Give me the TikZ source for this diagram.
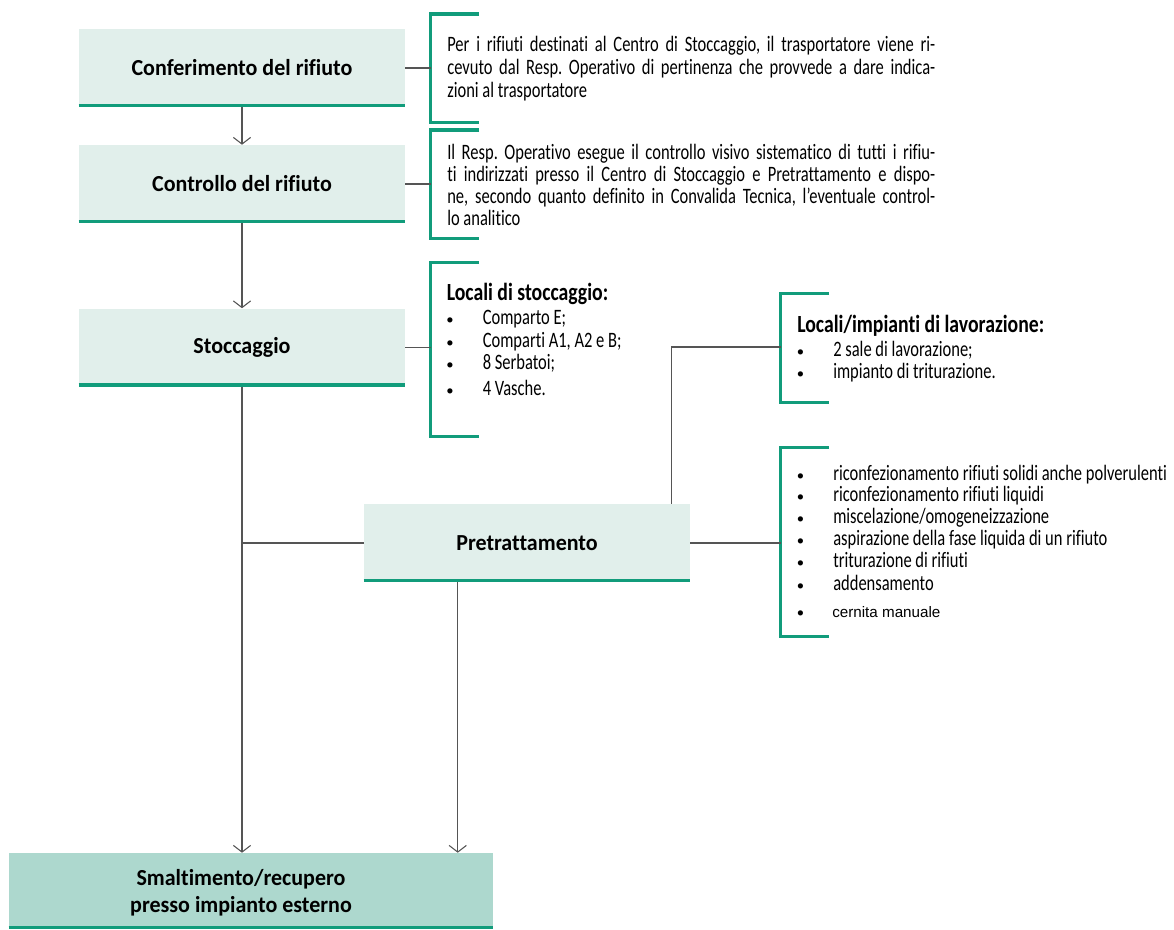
\documentclass[tikz,border=0pt]{standalone}
\usepackage{fontspec}
\setmainfont{Carlito}[Ligatures=NoCommon]
\newfontfamily\condf[FakeStretch=0.75,Ligatures=NoCommon]{Carlito}
\newfontfamily\headfam[FakeStretch=0.8,Ligatures=NoCommon]{Carlito}
\newfontfamily\titlefam[FakeStretch=0.96,Ligatures=NoCommon]{Carlito}
\newfontfamily\arialf{Liberation Sans}
\usetikzlibrary{arrows.meta}
\definecolor{boxfill}{HTML}{E1EFEB}
\definecolor{darkfill}{HTML}{ADD8CE}
\definecolor{greenline}{HTML}{119C7B}
\definecolor{linegray}{HTML}{555555}
\newcommand{\titlef}{\titlefam\fontsize{17.2pt}{20.25pt}\selectfont\bfseries}
\newcommand{\callf}{\condf\fontsize{16.5pt}{17pt}\selectfont\frenchspacing}
\newcommand{\headf}{\headfam\fontsize{18.5pt}{19pt}\selectfont\bfseries}
\newcommand{\bulf}{\fontsize{11pt}{12pt}\selectfont}
\newcommand{\jl}[1]{\makebox[366pt][s]{#1}}
\tikzset{
  stepbox/.style={fill=boxfill, minimum width=244.5pt, minimum height=58.5pt, inner sep=0pt, font=\titlef, align=center},
  greenbar/.style={draw=greenline, line width=2.5pt},
  bracketline/.style={draw=greenline, line width=2.5pt},
  conn/.style={draw=linegray, line width=0.8pt},
  arr/.style={draw=linegray, line width=0.8pt, -{Straight Barb[length=5pt,width=13pt]}},
  txt/.style={inner sep=0pt, anchor=base west, font=\callf},
  head/.style={inner sep=0pt, anchor=base west, font=\headf},
  bul/.style={inner sep=0pt, anchor=base, font=\bulf},
}
\begin{document}
\begin{tikzpicture}[x=0.75pt,y=-0.75pt]
\useasboundingbox (0,0) rectangle (1174,929);
% main boxes
\node[stepbox] (b1) at (242,68) {Conferimento del rifiuto};
\node[stepbox] (b2) at (242,184) {Controllo del rifiuto};
\node[stepbox] (b3) at (242,347.5) {Stoccaggio};
\node[stepbox] (b4) at (527,543) {Pretrattamento};
\node[stepbox, fill=darkfill, minimum width=363pt, minimum height=57pt,
  label={[xshift=-7.5pt, yshift=-1pt, align=center, font=\titlef]center:Smaltimento/recupero\\presso impianto esterno}] (b5) at (251,891) {};
\foreach \b in {b1,b2,b3,b4,b5}
  \draw[greenbar] ([yshift=1.25pt]\b.south west) -- ([yshift=1.25pt]\b.south east);

% brackets
\coordinate (k1) at (430.5,68);
\coordinate (k2) at (430.5,183.5);
\coordinate (k3) at (430.5,348.5);
\coordinate (k4) at (780.5,347);
\coordinate (k5) at (780.5,541);
\draw[bracketline] (479,14) -- (430.5,14) -- (430.5,122.5) -- (479,122.5);
\draw[bracketline] (479,130) -- (430.5,130) -- (430.5,238.5) -- (479,238.5);
\draw[bracketline] (479,262.5) -- (430.5,262.5) -- (430.5,436.5) -- (479,436.5);
\draw[bracketline] (829,293.5) -- (780.5,293.5) -- (780.5,402.5) -- (829,402.5);
\draw[bracketline] (829,447.5) -- (780.5,447.5) -- (780.5,636.5) -- (829,636.5);

% connectors
\draw[arr] (b1.south) -- (b2.north);
\draw[arr] (b2.south) -- (b3.north);
\draw[arr] (b3.south) -- (b3.south |- b5.north);
\draw[arr] ([xshift=70.5pt]b4.south west) -- ([xshift=70.5pt]b4.south west |- b5.north);
\draw[conn] (b3.south |- b4.west) -- (b4.west);
\draw[conn] (b1.east) -- (b1.east -| k1);
\draw[conn] (b2.east) -- (b2.east -| k2);
\draw[conn] (b3.east) -- (b3.east -| k3);
\draw[conn] ([xshift=231pt]b4.north west) |- (k4);
\draw[conn] (b4.east) -- (b4.east -| k5);

% callout 1
\node[txt] (t1a) at (447,51) {\jl{Per i rifiuti destinati al Centro di Stoccaggio, il trasportatore viene ri-}};
\node[txt] (t1b) at (447,74) {\jl{cevuto dal Resp. Operativo di pertinenza che provvede a dare indica-}};
\node[txt] (t1c) at (447,97) {zioni al trasportatore};
% callout 2
\node[txt] (t2a) at (447,159) {\jl{Il Resp. Operativo esegue il controllo visivo sistematico di tutti i rifiu-}};
\node[txt] (t2b) at (447,181.5) {\jl{ti indirizzati presso il Centro di Stoccaggio e Pretrattamento e dispo-}};
\node[txt] (t2c) at (447,203.5) {\jl{ne, secondo quanto definito in Convalida Tecnica, l’eventuale control-}};
\node[txt] (t2d) at (447,225.5) {lo analitico};
% callout 3
\node[head] (h3) at (446.5,300.5) {Locali di stoccaggio:};
\foreach \y/\t [count=\i] in {324/{Comparto E;},347/{Comparti A1, A2 e B;},369/{8 Serbatoi;},395/{4 Vasche.}}{
  \node[bul] (b3u\i) at (450,\y) {•};
  \node[txt] (b3t\i) at (482.5,\y) {\t};
}
% callout 4
\node[head] (h4) at (797,332.5) {Locali/impianti di lavorazione:};
\foreach \y/\t [count=\i] in {356/{2 sale di lavorazione;},378/{impianto di triturazione.}}{
  \node[bul] (b4u\i) at (800.5,\y) {•};
  \node[txt] (b4t\i) at (833,\y) {\t};
}
% callout 5
\foreach \y/\t [count=\i] in {480/{riconfezionamento rifiuti solidi anche polverulenti},501.5/{riconfezionamento rifiuti liquidi},523/{miscelazione/omogeneizzazione},545/{aspirazione della fase liquida di un rifiuto},567.5/{triturazione di rifiuti},590/{addensamento}}{
  \node[bul] (b5u\i) at (800.5,\y) {•};
  \node[txt] (b5t\i) at (833,\y) {\t};
}
\node[bul] (b5u7) at (800.5,617) {•};
\node[txt, font=\arialf\fontsize{11.4pt}{13pt}\selectfont] (b5t7) at (832,617) {cernita manuale};
\end{tikzpicture}
\end{document}
